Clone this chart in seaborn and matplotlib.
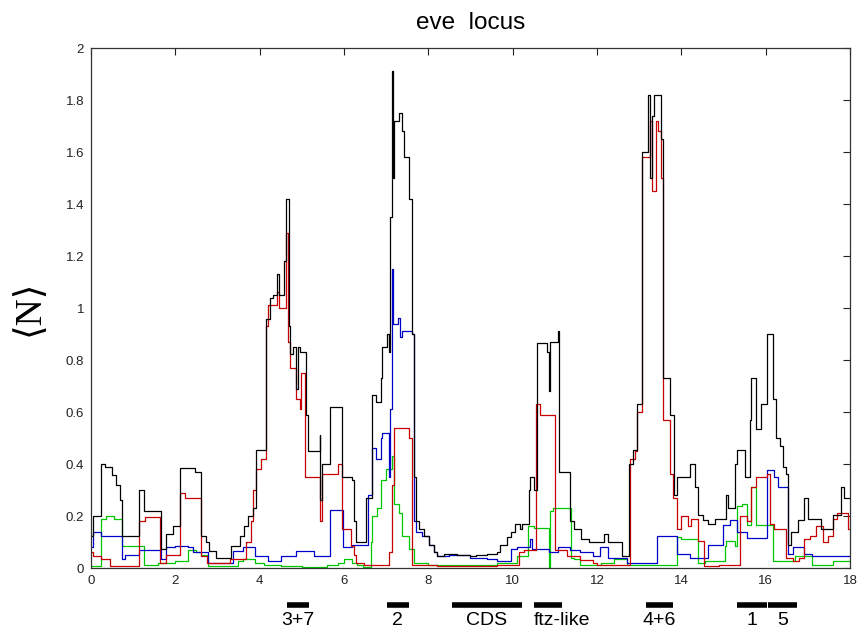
import numpy as np
import pandas as pd
import seaborn as sns
import matplotlib.pyplot as plt
from matplotlib.ticker import FuncFormatter

# step-wise traces (x = position, y = <N>)
black_x = [0.0, 0.05, 0.245, 0.33, 0.5, 0.6, 0.68, 0.74, 1.15, 1.25, 1.65, 1.77, 1.94, 2.12, 2.46,
           2.62, 2.72, 2.80, 2.97, 3.33, 3.53, 3.64, 3.72, 3.84, 3.92, 4.16, 4.24, 4.32, 4.40, 4.45,
           4.58, 4.62, 4.69, 4.72, 4.80, 4.87, 4.90, 4.95, 5.09, 5.15, 5.42, 5.44, 5.47, 5.66, 5.96,
           6.20, 6.24, 6.28, 6.51, 6.67, 6.75, 6.87, 6.91, 7.03, 7.06, 7.10, 7.14, 7.16, 7.18, 7.30,
           7.38, 7.42, 7.54, 7.62, 7.66, 7.70, 7.78, 7.89, 8.01, 8.13, 8.21, 8.37, 8.68, 8.99, 9.14,
           9.38, 9.63, 9.71, 9.87, 9.95, 10.06, 10.18, 10.22, 10.38, 10.42, 10.50, 10.58, 10.81, 10.85,
           10.89, 11.07, 11.10, 11.37, 11.45, 11.61, 11.80, 12.16, 12.25, 12.60, 12.77, 12.85, 12.96,
           13.06, 13.22, 13.26, 13.30, 13.36, 13.51, 13.56, 13.73, 13.83, 13.89, 14.20, 14.32, 14.40,
           14.52, 14.64, 14.80, 15.05, 15.10, 15.27, 15.31, 15.50, 15.62, 15.66, 15.78, 15.90, 16.02,
           16.17, 16.24, 16.33, 16.41, 16.49, 16.53, 16.60, 16.77, 16.90, 17.00, 17.30, 17.60, 17.79,
           17.85, 18.0]
black_y = [0.125, 0.20, 0.40, 0.39, 0.356, 0.32, 0.26, 0.125, 0.30, 0.22, 0.075, 0.13, 0.16, 0.385, 0.37,
           0.125, 0.10, 0.066, 0.04, 0.085, 0.125, 0.16, 0.20, 0.23, 0.455, 0.957, 1.04, 1.05, 1.13, 1.05,
           1.18, 1.42, 0.93, 0.825, 0.85, 0.69, 0.85, 0.83, 0.587, 0.45, 0.51, 0.26, 0.40, 0.62, 0.35,
           0.34, 0.18, 0.10, 0.27, 0.667, 0.64, 0.73, 0.85, 0.90, 0.83, 1.35, 1.91, 1.50, 1.72, 1.75,
           1.68, 1.58, 1.42, 0.90, 0.35, 0.18, 0.15, 0.125, 0.09, 0.06, 0.046, 0.055, 0.05, 0.045, 0.05,
           0.055, 0.06, 0.09, 0.12, 0.14, 0.17, 0.15, 0.17, 0.30, 0.35, 0.30, 0.865, 0.83, 0.68,
           0.87, 0.91, 0.37, 0.18, 0.15, 0.11, 0.10, 0.13, 0.10, 0.046, 0.40, 0.455, 0.63,
           1.60, 1.82, 1.50, 1.74, 1.82, 1.65, 0.73, 0.59, 0.28, 0.35, 0.40, 0.31, 0.205,
           0.185, 0.17, 0.19, 0.28, 0.23, 0.40, 0.455, 0.35, 0.57, 0.73, 0.535, 0.63, 0.90,
           0.65, 0.50, 0.47, 0.39, 0.36, 0.09, 0.14, 0.185, 0.27, 0.19, 0.15, 0.205, 0.31,
           0.27, 0.27]

red_x = [0.0, 0.05, 0.245, 0.45, 1.14, 1.27, 1.63, 1.77, 2.10, 2.22, 2.62, 2.75, 3.30, 3.68, 3.80,
         3.84, 3.92, 4.04, 4.16, 4.20, 4.40, 4.47, 4.62, 4.67, 4.71, 4.87, 4.95, 4.99, 5.07, 5.42,
         5.44, 5.47, 5.86, 5.96, 6.16, 6.24, 6.28, 6.47, 7.06, 7.13, 7.19, 7.55, 7.62, 8.20, 9.63,
         10.14, 10.26, 10.55, 10.65, 11.0, 11.3, 11.6, 11.9, 12.0, 12.79, 12.90, 12.96, 13.06, 13.26,
         13.30, 13.40, 13.44, 13.51, 13.56, 13.73, 13.81, 13.89, 14.0, 14.15, 14.24, 14.40, 14.53,
         14.90, 15.40, 15.56, 15.66, 15.78, 16.02, 16.11, 16.20, 16.49, 16.64, 16.80, 16.92, 17.04,
         17.20, 17.35, 17.47, 17.60, 17.70, 17.95, 18.0]
red_y = [0.06, 0.046, 0.033, 0.007, 0.18, 0.195, 0.02, 0.05, 0.29, 0.27, 0.046, 0.02, 0.033, 0.10, 0.18,
         0.30, 0.38, 0.42, 0.93, 1.01, 1.06, 1.0, 1.29, 0.87, 0.77, 0.65, 0.61, 0.75, 0.35, 0.32,
         0.18, 0.36, 0.40, 0.15, 0.086, 0.05, 0.02, 0.013, 0.06, 0.32, 0.54, 0.50, 0.013, 0.007, 0.013,
         0.06, 0.07, 0.63, 0.59, 0.07, 0.045, 0.03, 0.02, 0.01, 0.42, 0.45, 0.60, 1.58, 1.72,
         1.45, 1.72, 1.68, 1.50, 0.57, 0.36, 0.27, 0.15, 0.20, 0.16, 0.19, 0.105, 0.007,
         0.013, 0.20, 0.18, 0.31, 0.35, 0.36, 0.17, 0.15, 0.04, 0.026, 0.04, 0.11, 0.125,
         0.16, 0.10, 0.125, 0.19, 0.21, 0.15, 0.15]

blue_x = [0.0, 0.05, 0.245, 0.74, 0.80, 1.15, 1.65, 1.77, 2.0, 2.3, 2.42, 2.77, 3.37, 3.60, 3.90,
          4.20, 4.50, 4.87, 5.30, 5.66, 5.98, 6.20, 6.58, 6.67, 6.75, 6.87, 6.91, 7.06, 7.10, 7.14,
          7.17, 7.29, 7.33, 7.37, 7.62, 7.66, 7.70, 7.86, 8.01, 8.13, 8.21, 8.50, 8.99, 9.38, 9.63,
          9.95, 10.10, 10.42, 10.46, 10.85, 11.07, 11.37, 11.60, 11.90, 12.08, 12.25, 12.70, 13.42,
          13.89, 14.20, 14.64, 14.99, 15.15, 15.33, 15.55, 16.02, 16.20, 16.30, 16.53, 16.65, 16.90,
          17.10, 18.0]
blue_y = [0.08, 0.14, 0.125, 0.033, 0.05, 0.07, 0.033, 0.08, 0.086, 0.08, 0.06, 0.02, 0.066, 0.08, 0.046,
          0.026, 0.046, 0.066, 0.046, 0.225, 0.08, 0.09, 0.28, 0.46, 0.42, 0.50, 0.52, 0.35, 0.61, 1.15,
          0.94, 0.96, 0.89, 0.91, 0.90, 0.18, 0.14, 0.125, 0.09, 0.06, 0.046, 0.05, 0.04, 0.033, 0.026,
          0.073, 0.08, 0.11, 0.073, 0.06, 0.08, 0.07, 0.06, 0.046, 0.08, 0.04, 0.02, 0.125,
          0.053, 0.04, 0.09, 0.165, 0.185, 0.14, 0.115, 0.376, 0.35, 0.31, 0.053, 0.08, 0.053,
          0.046, 0.046]

green_x = [0.0, 0.245, 0.35, 0.55, 0.74, 1.26, 1.60, 2.0, 2.3, 2.5, 2.6, 2.77, 3.49, 3.60, 3.90,
           4.10, 4.50, 5.0, 5.60, 5.85, 6.0, 6.2, 6.3, 6.45, 6.63, 6.67, 6.79, 6.87, 6.99, 7.14,
           7.18, 7.30, 7.38, 7.54, 7.66, 8.0, 9.63, 10.10, 10.37, 10.50, 10.85, 10.89, 10.95, 11.38,
           11.45, 11.60, 12.10, 12.40, 12.72, 13.89, 14.0, 14.40, 14.55, 15.03, 15.07, 15.27, 15.31,
           15.43, 15.55, 15.66, 15.78, 16.17, 16.70, 17.10, 17.60, 18.0]
green_y = [0.007, 0.19, 0.20, 0.19, 0.086, 0.013, 0.02, 0.026, 0.07, 0.06, 0.05, 0.007, 0.026, 0.035, 0.02,
           0.013, 0.008, 0.005, 0.012, 0.02, 0.033, 0.02, 0.013, 0.005, 0.10, 0.20, 0.23, 0.34, 0.38, 0.43,
           0.245, 0.21, 0.125, 0.073, 0.02, 0.01, 0.02, 0.046, 0.16, 0.155, 0.0, 0.22, 0.23, 0.04,
           0.033, 0.013, 0.02, 0.033, 0.013, 0.12, 0.11, 0.02, 0.026, 0.086, 0.105, 0.086, 0.24,
           0.245, 0.165, 0.31, 0.165, 0.026, 0.046, 0.013, 0.026, 0.026]

# enhancer / gene regions marked under the axis
region_labels = ["3+7", "2", "CDS", "ftz-like", "4+6", "1", "5"]
region_start = [4.64, 7.01, 8.57, 10.50, 13.15, 15.31, 16.06]
region_end = [5.16, 7.53, 10.21, 11.16, 13.81, 16.04, 16.74]

frames = []
for name, xs, ys in [("green", green_x, green_y), ("blue", blue_x, blue_y),
                     ("red", red_x, red_y), ("black", black_x, black_y)]:
    frames.append(pd.DataFrame({"x": xs, "y": ys, "series": name}))
df = pd.concat(frames, ignore_index=True)

sns.set_style("white")
plt.rcParams["font.family"] = ["Liberation Sans", "DejaVu Sans"]
plt.rcParams["text.color"] = "black"

fig = plt.figure(figsize=(8.6, 6.35), dpi=100)
ax = fig.add_axes([0.1058, 0.1055, 0.8826, 0.8189])

palette = {"green": "#00c800", "blue": "#0000c8", "red": "#c80000", "black": "#000000"}
sns.lineplot(data=df, x="x", y="y", hue="series", hue_order=["green", "blue", "red", "black"],
             palette=palette, drawstyle="steps-post", estimator=None, sort=False,
             legend=False, linewidth=0.9, ax=ax)

ax.set_xlim(0, 18)
ax.set_ylim(0, 2)
ax.set_xticks(np.arange(0, 19, 2))
ax.set_yticks(np.arange(0, 2.01, 0.2))
ax.yaxis.set_major_formatter(FuncFormatter(lambda v, p: f"{v:.1f}".rstrip("0").rstrip(".")))
ax.tick_params(direction="in", length=5, width=0.8, top=True, right=True,
               labelsize=9.5, colors="#222222", pad=5)
for s in ax.spines.values():
    s.set_color("#333333")
    s.set_linewidth(0.9)

ax.set_xlabel("")
ax.set_ylabel("⟨N⟩", fontsize=27, color="black",
              family=["Liberation Serif", "DejaVu Serif"], rotation=90)
ax.yaxis.set_label_coords(-0.058, 0.5)
ax.set_title("eve  locus", fontsize=17.5, pad=14, color="black")

tr = ax.get_xaxis_transform()
for lab, a, b in zip(region_labels, region_start, region_end):
    ax.plot([a, b], [-0.071, -0.071], transform=tr, color="black", lw=4,
            solid_capstyle="butt", clip_on=False)
    if lab == "ftz-like":
        ax.text(a, -0.084, lab, transform=tr, ha="left", va="top", fontsize=14, color="black")
    else:
        ax.text((a + b) / 2, -0.084, lab, transform=tr, ha="center", va="top",
                fontsize=14, color="black")

fig.savefig("out.png", dpi=100)
